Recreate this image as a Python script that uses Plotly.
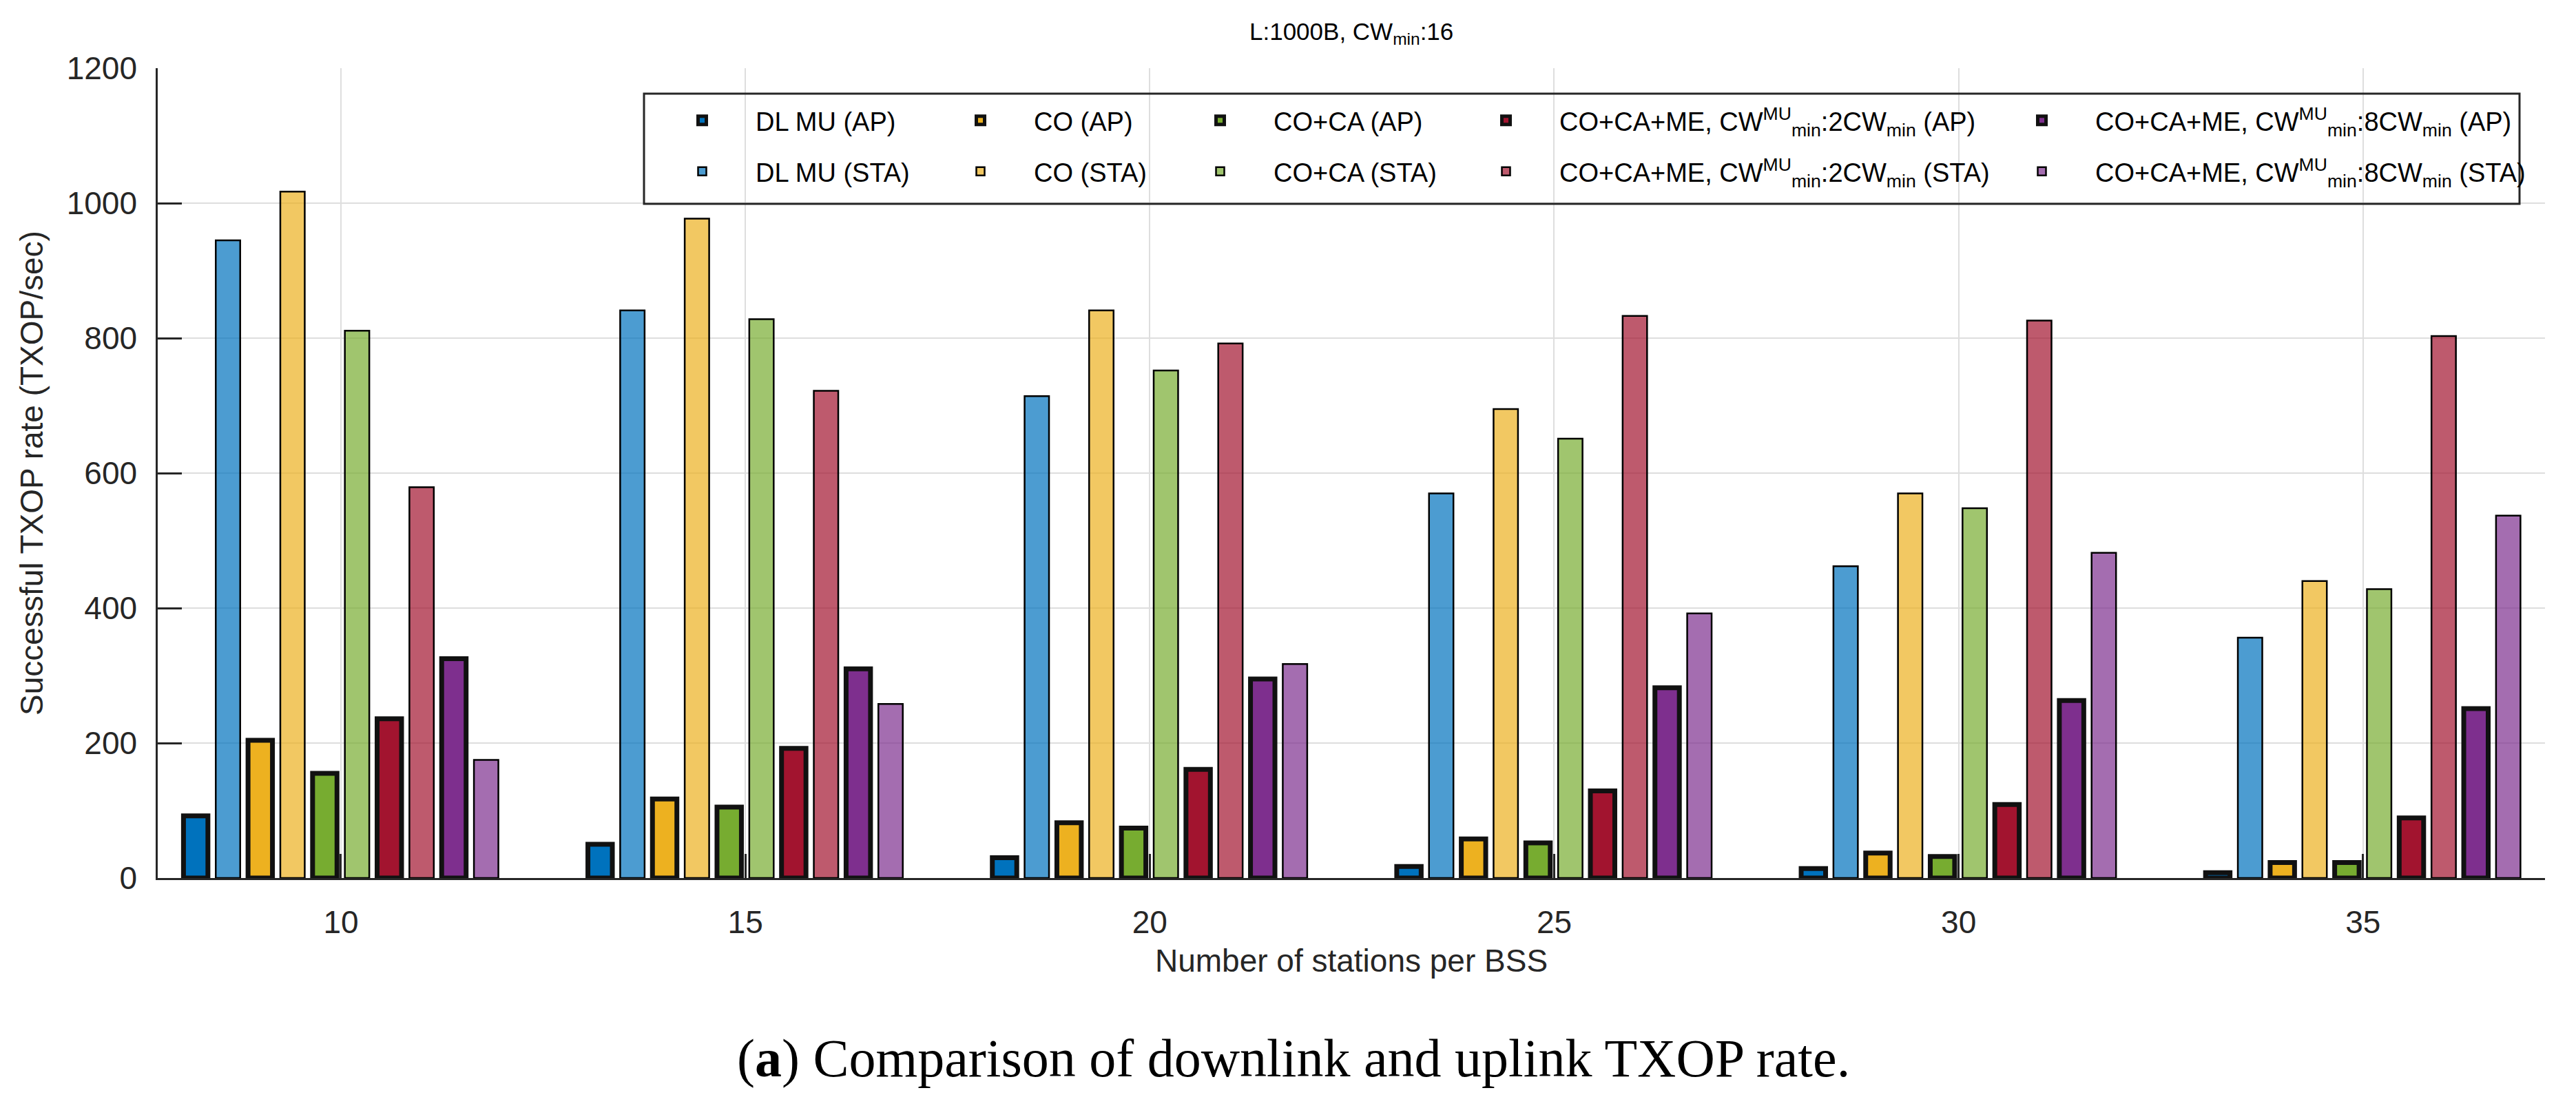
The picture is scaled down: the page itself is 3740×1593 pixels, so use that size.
import plotly.graph_objects as go

# ---------------- data ----------------
stations = [10, 15, 20, 25, 30, 35]

dl_ap = [92, 50, 30, 17, 14, 8]
dl_sta = [945, 841, 714, 570, 462, 356]
co_ap = [204, 117, 82, 58, 37, 23]
co_sta = [1017, 977, 841, 695, 570, 440]
ca_ap = [155, 105, 74, 52, 32, 23]
ca_sta = [811, 828, 752, 651, 548, 428]
me2_ap = [236, 192, 161, 129, 109, 89]
me2_sta = [579, 722, 792, 833, 826, 803]
me8_ap = [325, 310, 295, 282, 263, 251]
me8_sta = [175, 258, 317, 392, 482, 537]

ME2 = "CO+CA+ME, CW<sup>MU</sup><sub>min</sub>:2CW<sub>min</sub>"
ME8 = "CO+CA+ME, CW<sup>MU</sup><sub>min</sub>:8CW<sub>min</sub>"
series = [
    ("DL MU (AP)", dl_ap, "#0072BD", True),
    ("DL MU (STA)", dl_sta, "#0072BD", False),
    ("CO (AP)", co_ap, "#EDB120", True),
    ("CO (STA)", co_sta, "#EDB120", False),
    ("CO+CA (AP)", ca_ap, "#77AC30", True),
    ("CO+CA (STA)", ca_sta, "#77AC30", False),
    (ME2 + " (AP)", me2_ap, "#A2142F", True),
    (ME2 + " (STA)", me2_sta, "#A2142F", False),
    (ME8 + " (AP)", me8_ap, "#7E2F8E", True),
    (ME8 + " (STA)", me8_sta, "#7E2F8E", False),
]

# ---------------- geometry helpers (figure pixels -> paper) ----------------
W, H = 3740, 1593
L, R, T, B = 221, 3687, 91, 1267
def px(p):
    return (p - L) / (R - L)
def py(p):
    return (B - p) / (B - T)

def rgba(hexc, a):
    h = hexc.lstrip("#")
    r, g, b = int(h[0:2], 16), int(h[2:4], 16), int(h[4:6], 16)
    return f"rgba({r},{g},{b},{a})"

FONT = "Liberation Sans, Arial, Helvetica, sans-serif"
AX = "#262626"

fig = go.Figure()
col_text = [1094, 1498, 1846, 2261, 3039]
row_mid = [167, 241]
legends = {}
for i, (name, vals, col, is_ap) in enumerate(series):
    lname = "legend" if i == 0 else f"legend{i+1}"
    c, r = i // 2, i % 2
    legends[lname] = dict(
        x=px(col_text[c] - 160), y=py(row_mid[r]), xref="paper", yref="paper",
        xanchor="left", yanchor="middle", bgcolor="rgba(0,0,0,0)", borderwidth=0,
        font=dict(family=FONT, size=38, color="black"), itemwidth=145,
    )
    fig.add_trace(go.Bar(
        x=stations, y=vals, name=name, legend=lname,
        marker=dict(
            color=col if is_ap else rgba(col, 0.7),
            line=dict(color="#111111" if is_ap else "black", width=7 if is_ap else 2.5),
        ),
    ))

fig.update_layout(
    width=W, height=H,
    margin=dict(l=L, r=W - R, t=T, b=H - B),
    paper_bgcolor="white", plot_bgcolor="white",
    barmode="group", bargap=0.202, bargroupgap=0.243,
    xaxis=dict(
        range=[7.735, 37.25], tickvals=stations, ticktext=[str(s) for s in stations],
        ticks="inside", ticklen=35, tickwidth=2.5, tickcolor=AX,
        showline=True, linewidth=2.5, linecolor=AX, mirror=False,
        showgrid=True, gridcolor="#DEDEDE", gridwidth=2, zeroline=False,
        tickfont=dict(family=FONT, size=46, color=AX), ticklabelstandoff=22,
        title=dict(text="Number of stations per BSS", standoff=15,
                   font=dict(family=FONT, size=46, color=AX)),
    ),
    yaxis=dict(
        range=[0, 1200], tickvals=[0, 200, 400, 600, 800, 1000, 1200],
        ticks="inside", ticklen=35, tickwidth=2.5, tickcolor=AX,
        showline=True, linewidth=2.5, linecolor=AX, mirror=False,
        showgrid=True, gridcolor="#DEDEDE", gridwidth=2, zeroline=False,
        tickfont=dict(family=FONT, size=46, color=AX), ticklabelstandoff=18,
        title=dict(text="Successful TXOP rate (TXOP/sec)", standoff=20,
                   font=dict(family=FONT, size=46, color=AX)),
    ),
    showlegend=True,
    **legends,
)

# chart title
fig.add_annotation(text="L:1000B, CW<sub>min</sub>:16", xref="paper", yref="paper",
                   x=px(1954), y=py(40), xanchor="center", yanchor="middle",
                   showarrow=False, font=dict(family=FONT, size=35, color="black"))

# legend frame
fig.add_shape(type="rect", xref="paper", yref="paper",
              x0=px(927), x1=px(3650), y0=py(288), y1=py(128),
              line=dict(color=AX, width=3), fillcolor="rgba(255,255,255,0)", layer="above")

# caption
fig.add_annotation(text="(<b>a</b>) Comparison of downlink and uplink TXOP rate.",
                   xref="paper", yref="paper", x=px(1870), y=py(1528),
                   xanchor="center", yanchor="middle", showarrow=False,
                   font=dict(family="Liberation Serif, Times New Roman, serif", size=78, color="black"))

fig.write_html("out.html")
